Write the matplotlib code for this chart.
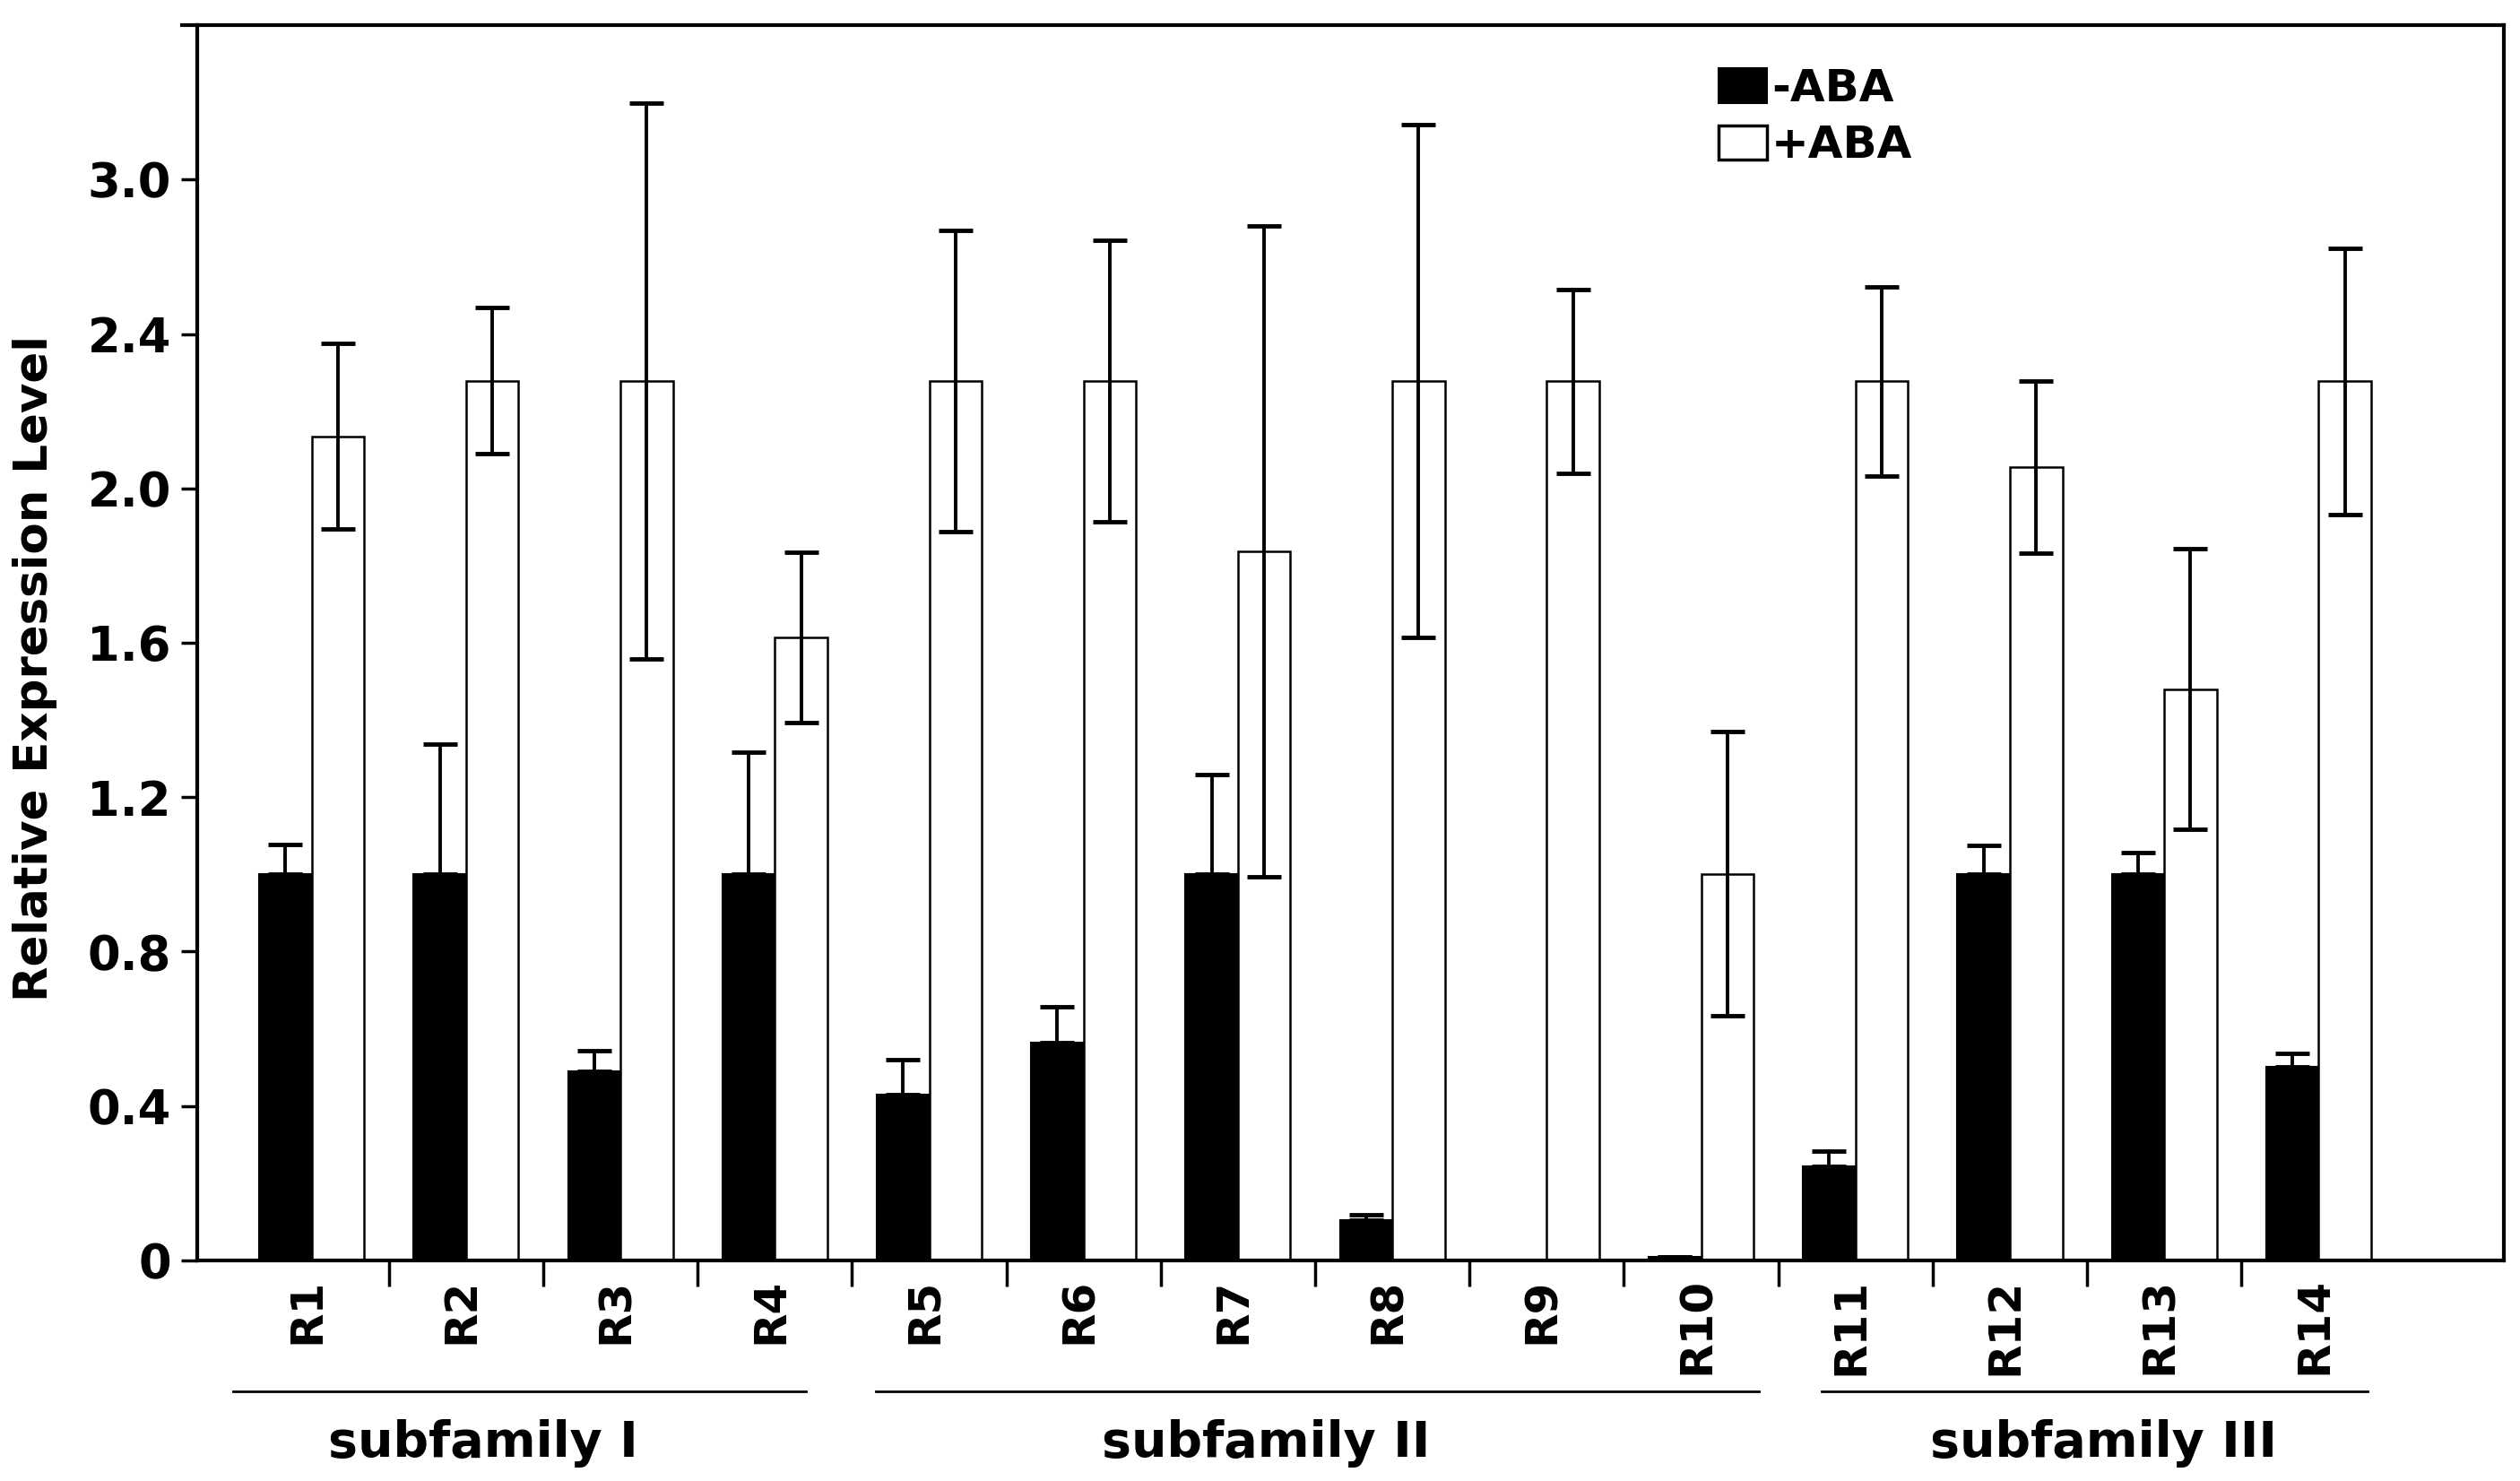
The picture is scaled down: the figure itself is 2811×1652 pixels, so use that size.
import numpy as np
import matplotlib
matplotlib.use("Agg")
import matplotlib.pyplot as plt
from matplotlib.patches import Patch

plt.rcParams['font.family'] = 'DejaVu Sans'
plt.rcParams['font.weight'] = 'bold'
plt.rcParams['axes.labelweight'] = 'bold'

# data
genes = ['R1', 'R2', 'R3', 'R4', 'R5', 'R6', 'R7',
         'R8', 'R9', 'R10', 'R11', 'R12', 'R13', 'R14']
minus_aba = [1.0, 1.0, 0.49, 1.0, 0.43, 0.565, 1.0,
             0.105, 0.0, 0.008, 0.244, 1.0, 1.0, 0.502]
minus_err = [0.077, 0.337, 0.053, 0.317, 0.089, 0.093, 0.258,
             0.012, 0.0, 0.002, 0.038, 0.075, 0.056, 0.034]
plus_aba = [2.135, 2.279, 2.279, 1.614, 2.278, 2.278, 1.836,
            2.278, 2.278, 1.001, 2.277, 2.055, 1.48, 2.277]
plus_err = [0.24, 0.19, 0.72, 0.22, 0.39, 0.365, 0.843,
            0.665, 0.238, 0.368, 0.245, 0.223, 0.364, 0.345]
ytick_labels = ['0', '0.4', '0.8', '1.2', '1.6', '2.0', '2.4', '3.0']
groups = ['subfamily I', 'subfamily II', 'subfamily III']
group_members = [(0, 3), (4, 9), (10, 13)]

# layout tweaks (hand drawn underlines / labels in the original)
line_pad = [(-0.51, 0.20), (-0.345, 0.377), (-0.22, 0.32)]
label_shift = [-0.39, -0.32, 0.11]

x = np.arange(len(genes))
w = 0.34

fig = plt.figure(figsize=(28.11, 16.52), dpi=100)
ax = fig.add_axes([0.0783, 0.149, 0.9153, 0.834])

ax.bar(x - w / 2, minus_aba, w, color='black', edgecolor='black', linewidth=1.5,
       yerr=[np.zeros(len(genes)), minus_err],
       error_kw=dict(elinewidth=2.8, capsize=14, capthick=3.5, ecolor='black'))
ax.bar(x + w / 2, plus_aba, w, color='white', edgecolor='black', linewidth=1.8,
       yerr=plus_err,
       error_kw=dict(elinewidth=2.8, capsize=14, capthick=3.5, ecolor='black'))

ax.set_xlim(-0.741, 14.2)
ax.set_ylim(0, 3.2)

ax.set_yticks(np.arange(len(ytick_labels)) * 0.4)
ax.set_yticklabels(ytick_labels, fontsize=38)
ax.tick_params(axis='y', direction='out', length=13, width=2.5, pad=8)

# boundary ticks without labels, gene names as minor labels
ax.set_xticks(x[:-1] + 0.5)
ax.set_xticklabels([])
ax.tick_params(axis='x', which='major', direction='out', length=21, width=2.5)
ax.set_xticks(x - 0.03, minor=True)
ax.set_xticklabels(genes, minor=True, rotation=90, fontsize=36)
ax.tick_params(axis='x', which='minor', length=0, pad=14)

for s in ax.spines.values():
    s.set_linewidth(3)
ax.plot([-0.0066, 0], [1, 1], transform=ax.transAxes, color='black',
        linewidth=3, clip_on=False)

ax.set_ylabel('Relative Expression Level', fontsize=37, fontweight='bold')
ax.yaxis.set_label_coords(-0.0606, 0.479)

tr = ax.get_xaxis_transform()
for name, (a, b), (p0, p1), sh in zip(groups, group_members, line_pad, label_shift):
    ax.plot([a + p0, b + p1], [-0.106, -0.106], transform=tr, color='black',
            linewidth=2, clip_on=False)
    ax.text((a + b) / 2 + sh, -0.1284, name, transform=tr, ha='center', va='top',
            fontsize=40)

handles = [Patch(facecolor='black', edgecolor='black', linewidth=1.5),
           Patch(facecolor='white', edgecolor='black', linewidth=2.5)]
ax.legend(handles, ['-ABA', '+ABA'], loc='upper left', bbox_to_anchor=(0.6595, 0.966),
          frameon=False, fontsize=36, handlelength=1.08, handleheight=0.8,
          handletextpad=0.1, labelspacing=0.31, borderpad=0, borderaxespad=0)

fig.savefig('out.png', dpi=100)
